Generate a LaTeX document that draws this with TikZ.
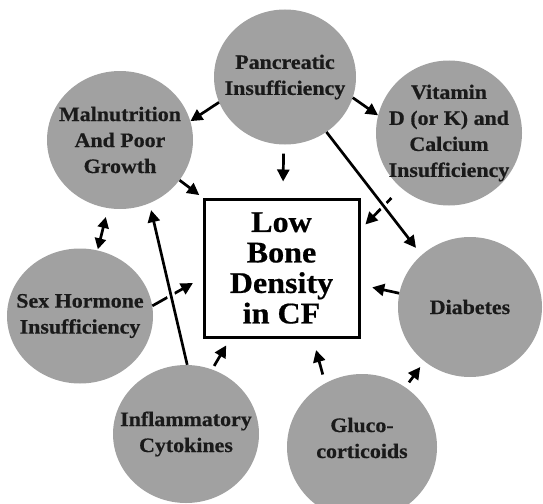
\documentclass[tikz,border=0pt]{standalone}
\usepackage{fontspec}
\setmainfont{Liberation Serif}[FakeStretch=1.07,BoldFeatures={FakeBold=0.6}]
\usepackage{tikz}
\usetikzlibrary{arrows.meta,shapes.geometric}
\definecolor{circleGray}{HTML}{A1A1A1}
\definecolor{textDark}{HTML}{1A1A1A}

\begin{document}
\begin{tikzpicture}[x=1pt,y=-1pt,
  blob/.style={ellipse,fill=circleGray,minimum width=146pt,minimum height=138pt,inner sep=0pt},
  txt/.style={align=center,text=textDark,font=\bfseries\fontsize{20.5}{26}\selectfont},
  arr/.style={-{Triangle[length=12pt,width=12pt]},line width=2.7pt},
  twoway/.style={{Triangle[length=11pt,width=11pt]}-{Triangle[length=11pt,width=11pt]},line width=2.7pt},
  gap/.style={white,line width=8pt}]
\path[use as bounding box] (0,0) rectangle (543,503);
\clip (0,0) rectangle (543,503);
% circles
\node[blob,minimum width=142pt,minimum height=135pt] (panc) at (285,77) {};
\node[blob,minimum height=145pt] (vit) at (449,133) {};
\node[blob] (maln) at (120,140) {};
\node[blob,minimum height=135pt] (sex) at (80,316) {};
\node[blob,minimum width=144pt,minimum height=140pt] (diab) at (470,307) {};
\node[blob] (infl) at (186,434) {};
\node[blob,minimum width=150pt,minimum height=146pt] (gluc) at (362,447) {};
\node[txt] (pancTxt) at (panc) {Pancreatic\\Insufficiency};
\node[txt] (vitTxt) at (vit) {Vitamin\\D (or K) and\\Calcium\\Insufficiency};
\node[txt] (malnTxt) at (maln) {Malnutrition\\And Poor\\Growth};
\node[txt] (sexTxt) at (sex) {Sex Hormone\\Insufficiency};
\node[txt] (diabTxt) at (diab) {Diabetes};
\node[txt] (inflTxt) at (infl) {Inflammatory\\Cytokines};
\node[txt,yshift=9pt] (glucTxt) at (gluc) {Gluco-\\corticoids};
% centre box
\node[draw,line width=3pt,minimum width=155pt,minimum height=138pt,align=center,
  font=\bfseries\fontsize{30}{30.5}\selectfont] (box) at (281.5,268) {Low\\Bone\\Density\\in CF};
% short arrows
\draw[arr] (panc.201) -- (maln.15);
\draw[arr] (panc.343) -- (vit.166);
\draw[arr,shorten <=9pt,shorten >=16pt] (panc) -- (box);
\draw[arr,shorten <=14pt,shorten >=7pt] (vit.229) -- (box.26);
\draw[arr,shorten >=4pt] (maln.326) -- (box.north west);
\draw[twoway,shorten <=9pt,shorten >=1pt] (maln.260) -- (sex.75);
\draw[arr,shorten >=11pt] (sex.8) -- (box.187);
\draw[arr,shorten <=4pt,shorten >=8pt] (infl.68) -- (box.234);
\draw[arr,shorten <=9pt,shorten >=12pt] (gluc.120) -- (box.294);
\draw[arr,shorten <=6pt,shorten >=7pt] (gluc.54) -- (diab.230);
\draw[arr,shorten >=12pt] (diab.169) -- (box.348);
% long arrows, cut the short ones they cross
\draw[gap,shorten <=15pt,shorten >=15pt] (panc.307) -- (diab.133);
\draw[arr,shorten >=9pt] (panc.307) -- (diab.133);
\draw[gap,shorten <=15pt,shorten >=15pt] (infl.89) -- (maln.295);
\draw[arr,shorten >=7pt] (infl.89) -- (maln.295);
\end{tikzpicture}
\end{document}
